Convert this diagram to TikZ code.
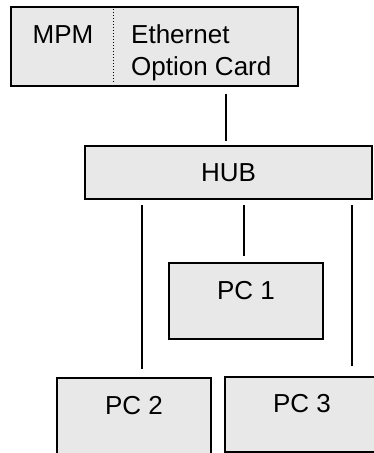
\documentclass[tikz,border=0pt]{standalone}
\usepackage{fontspec}
\setmainfont{Liberation Sans}
\usetikzlibrary{calc}
\begin{document}
\begin{tikzpicture}[x=1pt,y=-1pt,
  txt/.style={font=\fontsize{26}{32}\selectfont},
  box/.style={draw=black,line width=1.5pt,fill=boxgrey,rectangle,inner sep=0pt,txt},
  pcbox/.style={box,minimum width=154pt,minimum height=76pt,text height=18pt,text depth=22pt},
  wire/.style={line width=1.3pt}]
\definecolor{boxgrey}{RGB}{232,232,232}
\useasboundingbox (0,0) rectangle (373,453);
% MPM box
\node[box,minimum width=287pt,minimum height=79pt] (mpm) at (154.5,46.5) {};
\draw[dotted,line width=1pt] ($(mpm.north west)+(103,3)$) -- ($(mpm.south west)+(103,-3)$);
\node[txt,anchor=base,inner sep=0pt] (mpmtxt) at (63,43) {MPM};
\node[txt,anchor=base west,inner sep=0pt,align=left] (eth) at (131,75) {Ethernet\\Option Card};
% HUB
\node[box,minimum width=287pt,minimum height=53pt] (hub) at (228.5,172.5) {HUB};
% PCs
\node[pcbox] (pc1) at (246,301) {PC 1};
\node[pcbox] (pc2) at (134,416) {PC 2};
\node[pcbox,minimum height=75pt] (pc3) at (302,414.5) {PC 3};
% connectors
\coordinate (t1) at (226,93);
\draw[wire] ($(mpm.south -| t1)+(0,7)$) -- ($(hub.north -| t1)+(0,-4)$);
\draw[wire] ($(hub.south)+(-86.5,5)$) -- ($(pc2.north)+(8,-8)$);
\draw[wire] ($(hub.south)+(15.5,5)$) -- ($(pc1.north)+(-2,-6)$);
\draw[wire] ($(hub.south)+(123.5,5)$) -- ($(pc3.north)+(50,-10)$);
\end{tikzpicture}
\end{document}
